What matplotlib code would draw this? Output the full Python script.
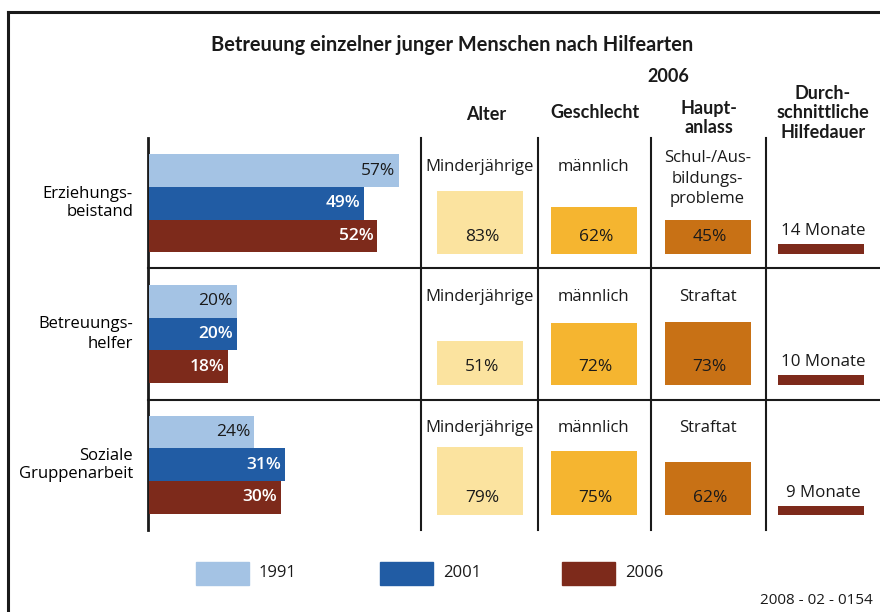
import matplotlib.pyplot as plt
from matplotlib.patches import Rectangle

# ==========================================
# Data
# ==========================================

categories = ["Erziehungs-\nbeistand", "Betreuungs-\nhelfer", "Soziale\nGruppenarbeit"]
years = ["1991", "2001", "2006"]
share_1991 = [57, 20, 24]
share_2001 = [49, 20, 31]
share_2006 = [52, 18, 30]

alter_labels = ["Minderjährige", "Minderjährige", "Minderjährige"]
alter_values = [83, 51, 79]
geschlecht_labels = ["männlich", "männlich", "männlich"]
geschlecht_values = [62, 72, 75]
anlass_labels = ["Schul-/Aus-\nbildungs-\nprobleme", "Straftat", "Straftat"]
anlass_values = [45, 73, 62]
dauer_months = [14, 10, 9]

# ==========================================
# Style
# ==========================================

W, H = 880, 612
year_colors = ["#a4c3e4", "#215ca4", "#7d2a1b"]
label_colors = ["#1a1a1a", "white", "white"]
box_colors = ["#fbe39f", "#f5b530", "#c87115"]
line_color = "#1a1a1a"
body_font = ["Open Sans", "DejaVu Sans"]
head_font = ["Lato", "DejaVu Sans"]

plt.rcParams["font.family"] = body_font


def px_rect(x0, y0, x1, y1):
    return [x0 / W, 1 - y1 / H, (x1 - x0) / W, (y1 - y0) / H]


fig = plt.figure(figsize=(W / 100, H / 100), dpi=100)

# background axes in pixel units for frame, grid and headings
bg = fig.add_axes([0, 0, 1, 1])
bg.set_xlim(0, W)
bg.set_ylim(H, 0)
bg.axis("off")

bg.plot([8, W], [12, 12], color=line_color, lw=2.2)
bg.plot([8, 8], [12, H], color=line_color, lw=2.2)

grid_top, grid_bottom = 138, 530
row_tops = [138, 268, 400]
for x in [148, 421, 538, 651, 766]:
    bg.plot([x, x], [grid_top, grid_bottom], color=line_color,
            lw=2 if x == 148 else 1.5)
for y in row_tops[1:]:
    bg.plot([148, W], [y, y], color=line_color, lw=1.5)

head_kw = dict(ha="center", va="center", fontweight="bold",
               family=head_font, color="#1a1a1a")
bg.text(452, 45, "Betreuung einzelner junger Menschen nach Hilfearten",
        fontsize=14.4, **head_kw)
bg.text(668, 76, "2006", fontsize=13, **head_kw)
bg.text(486, 114, "Alter", fontsize=13, **head_kw)
bg.text(595, 113, "Geschlecht", fontsize=13, **head_kw)
bg.text(709, 118, "Haupt-\nanlass", fontsize=13, linespacing=1.2, **head_kw)
bg.text(823, 113, "Durch-\nschnittliche\nHilfedauer", fontsize=13,
        linespacing=1.2, **head_kw)

# row labels
for i, cat in enumerate(categories):
    bg.text(133, (row_tops[i] + (row_tops[i + 1] if i < 2 else grid_bottom)) / 2,
            cat, ha="right", va="center", fontsize=12, linespacing=1.25)

# ==========================================
# Horizontal bars
# ==========================================

ax = fig.add_axes(px_rect(149, grid_top, 421, grid_bottom))
ax.set_xlim(0, (421 - 149) / 4.39)
ax.set_ylim(3, 0)
ax.axis("off")
ax.patch.set_alpha(0)

for j, vals in enumerate([share_1991, share_2001, share_2006]):
    ypos = [r + 0.25 * (j + 1) for r in range(len(vals))]
    ax.barh(ypos, vals, height=0.252, color=year_colors[j])
    for y, v in zip(ypos, vals):
        ax.text(v - 0.9, y, f"{v}%", ha="right", va="center",
                fontsize=12.5, color=label_colors[j],
                fontweight="normal" if j == 0 else "semibold")

# ==========================================
# 2006 boxes
# ==========================================

row_scale = [0.0058, 0.0066, 0.0066]
box_w = 86 / 114

columns = [
    (480, alter_labels, alter_values, box_colors[0]),
    (593.5, geschlecht_labels, geschlecht_values, box_colors[1]),
    (707.5, anlass_labels, anlass_values, box_colors[2]),
]
for cx, labels, vals, color in columns:
    cax = fig.add_axes(px_rect(cx - 57, grid_top, cx + 57, grid_bottom))
    cax.set_xlim(-0.5, 0.5)
    cax.set_ylim(3, 0)
    cax.axis("off")
    cax.patch.set_alpha(0)
    for r, (lab, v) in enumerate(zip(labels, vals)):
        cax.bar(0, -v * row_scale[r], width=box_w, bottom=r + 0.888,
                color=color)
        cax.text(0.02, r + 0.755, f"{v}%", ha="center", va="center",
                 fontsize=12.5, color="#1a1a1a")
        nlines = lab.count("\n") + 1
        cax.text(0, r + 0.22 + 0.045 * (nlines - 1), lab, ha="center",
                 va="center", fontsize=12, color="#1a1a1a",
                 linespacing=1.36)

# average duration
dax = fig.add_axes(px_rect(821 - 57, grid_top, 821 + 57, grid_bottom))
dax.set_xlim(-0.5, 0.5)
dax.set_ylim(3, 0)
dax.axis("off")
dax.patch.set_alpha(0)
for r, m in enumerate(dauer_months):
    dax.bar(0, -0.075, width=box_w, bottom=r + 0.888, color=year_colors[2])
    dax.text(0.02, r + 0.715, f"{m} Monate", ha="center", va="center",
             fontsize=12.2, color="#1a1a1a")

# ==========================================
# Legend
# ==========================================

for x0, year, color in zip([196, 380, 562], years, year_colors):
    bg.add_patch(Rectangle((x0, 562), 53, 23, color=color))
    bg.text(x0 + 63, 573, year, ha="left", va="center", fontsize=12,
            color="#1a1a1a")

bg.text(873, 600, "2008 - 02 - 0154", ha="right", va="center",
        fontsize=11, color="#1a1a1a")

fig.savefig("out.png", dpi=100)
